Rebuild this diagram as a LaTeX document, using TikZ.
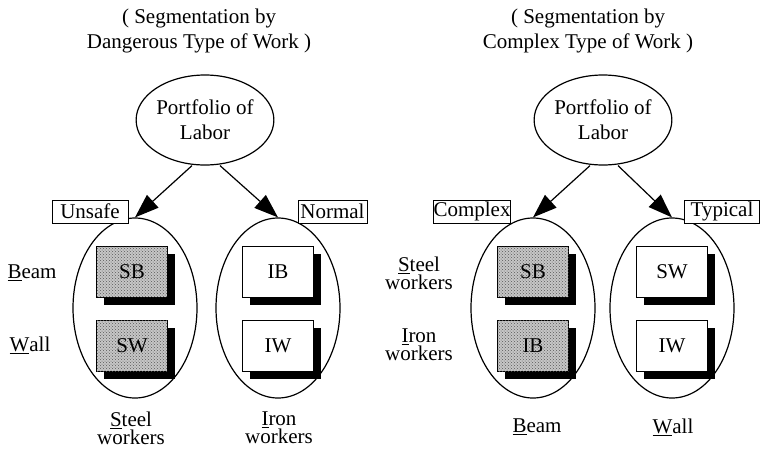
\documentclass[tikz,border=0pt]{standalone}
\usepackage{fontspec}
\setmainfont{Liberation Serif}
\usetikzlibrary{arrows.meta,shadows,shapes.geometric,patterns}
\begin{document}
\begin{tikzpicture}[x=1pt,y=-1pt,
 txt/.style={font=\fontsize{21}{25}\selectfont, align=center, inner sep=0pt},
 tight/.style={font=\fontsize{21}{18}\selectfont, align=center, inner sep=0pt},
 oval/.style={draw, ellipse, line width=1.2pt, minimum width=124pt, minimum height=180pt, inner sep=0pt},
 topoval/.style={draw, ellipse, line width=1.2pt, minimum width=124pt, minimum height=90pt, inner sep=0pt, txt},
 tag/.style={draw, line width=1pt, txt, minimum height=23pt, fill=white},
 cell/.style={draw, line width=1pt, txt, minimum width=71pt, minimum height=51pt, fill=white,
   drop shadow={shadow xshift=7pt, shadow yshift=-7pt, fill=black, opacity=1}},
 hot/.style={cell, fill=gray!45, postaction={pattern=crosshatch dots, pattern color=black!65}},
 arr/.style={-{Triangle[length=24pt,width=17pt]}, line width=1.2pt}]
\useasboundingbox (0,0) rectangle (761,448);
% ---------- left panel ----------
\node[txt] (t1) at (199,31) {( Segmentation by\\Dangerous Type of Work )};
\node[topoval] (p1) at (205,120) {Portfolio of\\Labor};
\node[oval] (e1) at (135,308) {};
\node[oval] (e2) at (278,308) {};
\node[tag, minimum width=76pt] (u1) at (90,211.5) {Unsafe};
\node[tag, minimum width=69pt] (n1) at (332.5,211.5) {Normal};
\node[hot] (sb1) at (132,272) {SB};
\node[hot] (sw1) at (132,346) {SW};
\node[cell] (ib1) at (278,272) {IB};
\node[cell] (iw1) at (278,346) {IW};
\node[txt] (beam1) at (32,273) {\underline{B}eam};
\node[txt] (wall1) at (30,345) {\underline{W}all};
\node[tight] (st1) at (131,428) {\underline{S}teel\\workers};
\node[tight] (ir1) at (279,428) {\underline{I}ron\\workers};
\draw[arr] ([xshift=-13pt]p1.south) -- (e1.north);
\draw[arr] ([xshift=15pt]p1.south) -- (e2.north);
% ---------- right panel ----------
\node[txt] (t2) at (588,31) {( Segmentation by\\Complex Type of Work )};
\node[topoval] (p2) at (603,120) {Portfolio of\\Labor};
\node[oval] (e3) at (533,308) {};
\node[oval] (e4) at (672,308) {};
\node[tag, minimum width=75pt] (c2) at (472,211.5) {Complex};
\node[tag, minimum width=75pt] (ty2) at (722,211.5) {Typical};
\node[hot] (sb2) at (533,272) {SB};
\node[hot] (ib2) at (533,346) {IB};
\node[cell] (sw2) at (672,272) {SW};
\node[cell] (iw2) at (672,346) {IW};
\node[tight] (st2) at (419,273) {\underline{S}teel\\workers};
\node[tight] (ir2) at (419,345) {\underline{I}ron\\workers};
\node[txt] (beam2) at (537,427) {\underline{B}eam};
\node[txt] (wall2) at (673,427) {\underline{W}all};
\draw[arr] ([xshift=-13pt]p2.south) -- (e3.north);
\draw[arr] ([xshift=15pt]p2.south) -- (e4.north);
\end{tikzpicture}
\end{document}
